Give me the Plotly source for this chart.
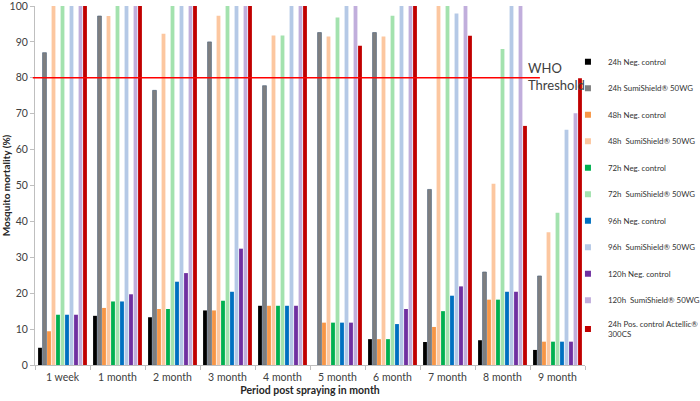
import plotly.graph_objects as go

categories = ["1 week", "1 month", "2 month", "3 month", "4 month", "5 month",
              "6 month", "7 month", "8 month", "9 month"]

series_names = [
    "24h Neg. control",
    "24h SumiShield® 50WG",
    "48h Neg. control",
    "48h\u00a0 SumiShield® 50WG",
    "72h Neg. control",
    "72h\u00a0 SumiShield® 50WG",
    "96h Neg. control",
    "96h\u00a0 SumiShield® 50WG",
    "120h Neg. control",
    "120h\u00a0 SumiShield® 50WG",
    "24h Pos. control Actellic®<br>300CS",
]

neg24 = [4.8, 13.7, 13.3, 15.2, 16.5, 0, 7.2, 6.4, 6.9, 4.2]
sumi24 = [87.0, 97.2, 76.5, 90.0, 77.8, 92.6, 92.6, 48.9, 25.9, 24.8]
neg48 = [9.4, 15.9, 15.6, 15.2, 16.5, 11.8, 7.2, 10.6, 18.2, 6.5]
sumi48 = [100, 97.2, 92.3, 97.3, 91.8, 91.5, 91.5, 100, 50.5, 37.0]
neg72 = [14.0, 17.7, 15.6, 17.9, 16.5, 11.8, 7.2, 15.0, 18.2, 6.5]
sumi72 = [100, 100, 100, 100, 91.8, 96.8, 97.3, 100, 88.0, 42.4]
neg96 = [14.0, 17.7, 23.2, 20.4, 16.5, 11.8, 11.4, 19.3, 20.4, 6.5]
sumi96 = [100, 100, 100, 100, 100, 100, 100, 97.9, 100, 65.5]
neg120 = [14.0, 19.7, 25.6, 32.4, 16.5, 11.8, 15.6, 21.9, 20.4, 6.5]
sumi120 = [100, 100, 100, 100, 100, 100, 100, 100, 100, 70.1]
pos24 = [100, 100, 100, 100, 100, 88.9, 100, 91.7, 66.6, 79.9]

who_threshold = 80

values = [neg24, sumi24, neg48, sumi48, neg72, sumi72, neg96, sumi96, neg120, sumi120, pos24]
colors = ["#000000", "#7f7f7f", "#f79646", "#fcc7a0", "#00b050", "#a3e2ae",
          "#0070c0", "#b5c9e6", "#7030a0", "#c1aedc", "#c00000"]
line_colors = [None, "#55677d", None, None, None, None, None, None, None, None, None]

fig = go.Figure()
for i, (name, vals, col) in enumerate(zip(series_names, values, colors)):
    marker = dict(color=col)
    if line_colors[i]:
        marker["line"] = dict(color=line_colors[i], width=0.7)
    else:
        marker["line"] = dict(width=0)
    fig.add_trace(go.Bar(x=categories, y=vals, name=name, marker=marker,
                         showlegend=False, legendgroup=f"g{i}"))
    fig.add_trace(go.Scatter(x=[None], y=[None], mode="markers", name=name,
                             marker=dict(symbol="square", size=6, color=col),
                             showlegend=True, legendgroup=f"g{i}"))

fig.add_shape(type="line", xref="paper", yref="y", x0=-0.004, x1=0.918,
              y0=who_threshold, y1=who_threshold,
              line=dict(color="#ff0000", width=1.5))

fig.add_annotation(xref="paper", yref="paper", x=0.893, y=0.803,
                   text="WHO<br>Threshold", showarrow=False, xanchor="left",
                   yanchor="middle", align="left",
                   font=dict(family="Lato", size=13, color="#404040"))

fig.update_layout(
    width=700, height=401,
    margin=dict(l=35, r=115, t=6, b=36, autoexpand=False),
    paper_bgcolor="white", plot_bgcolor="white",
    barmode="group", bargap=0.1, bargroupgap=0.15,
    font=dict(family="Lato", size=10, color="#404040"),
    legend=dict(x=0.969, xanchor="left", y=0.885, yanchor="top",
                font=dict(family="Lato", size=7.9, color="#333333"),
                tracegroupgap=7.5, itemwidth=30, bgcolor="rgba(0,0,0,0)"),
    xaxis=dict(
        type="category", showline=True, linecolor="#bfbfbf", linewidth=1,
        ticks="outside", ticklen=4, tickcolor="#bfbfbf", tickson="boundaries",
        ticklabelstandoff=2,
        tickfont=dict(family="Lato", size=10.5, color="#404040"),
        title=dict(text="<b>Period post spraying in month</b>", standoff=5,
                   font=dict(family="Lato", size=10.5, color="#262626")),
        showgrid=False,
    ),
    yaxis=dict(
        range=[0, 100], tickvals=[0, 10, 20, 30, 40, 50, 60, 70, 80, 90, 100],
        showgrid=False, showline=True, linecolor="#bfbfbf", linewidth=1,
        ticks="outside", ticklen=4, tickcolor="#bfbfbf", zeroline=False,
        ticklabeloverflow="allow",
        tickfont=dict(family="Lato", size=10.5, color="#404040"),
        title=dict(text="<b>Mosquito mortality (%)</b>", standoff=5,
                   font=dict(family="Lato", size=10, color="#262626")),
    ),
)

fig.write_html("out.html")
